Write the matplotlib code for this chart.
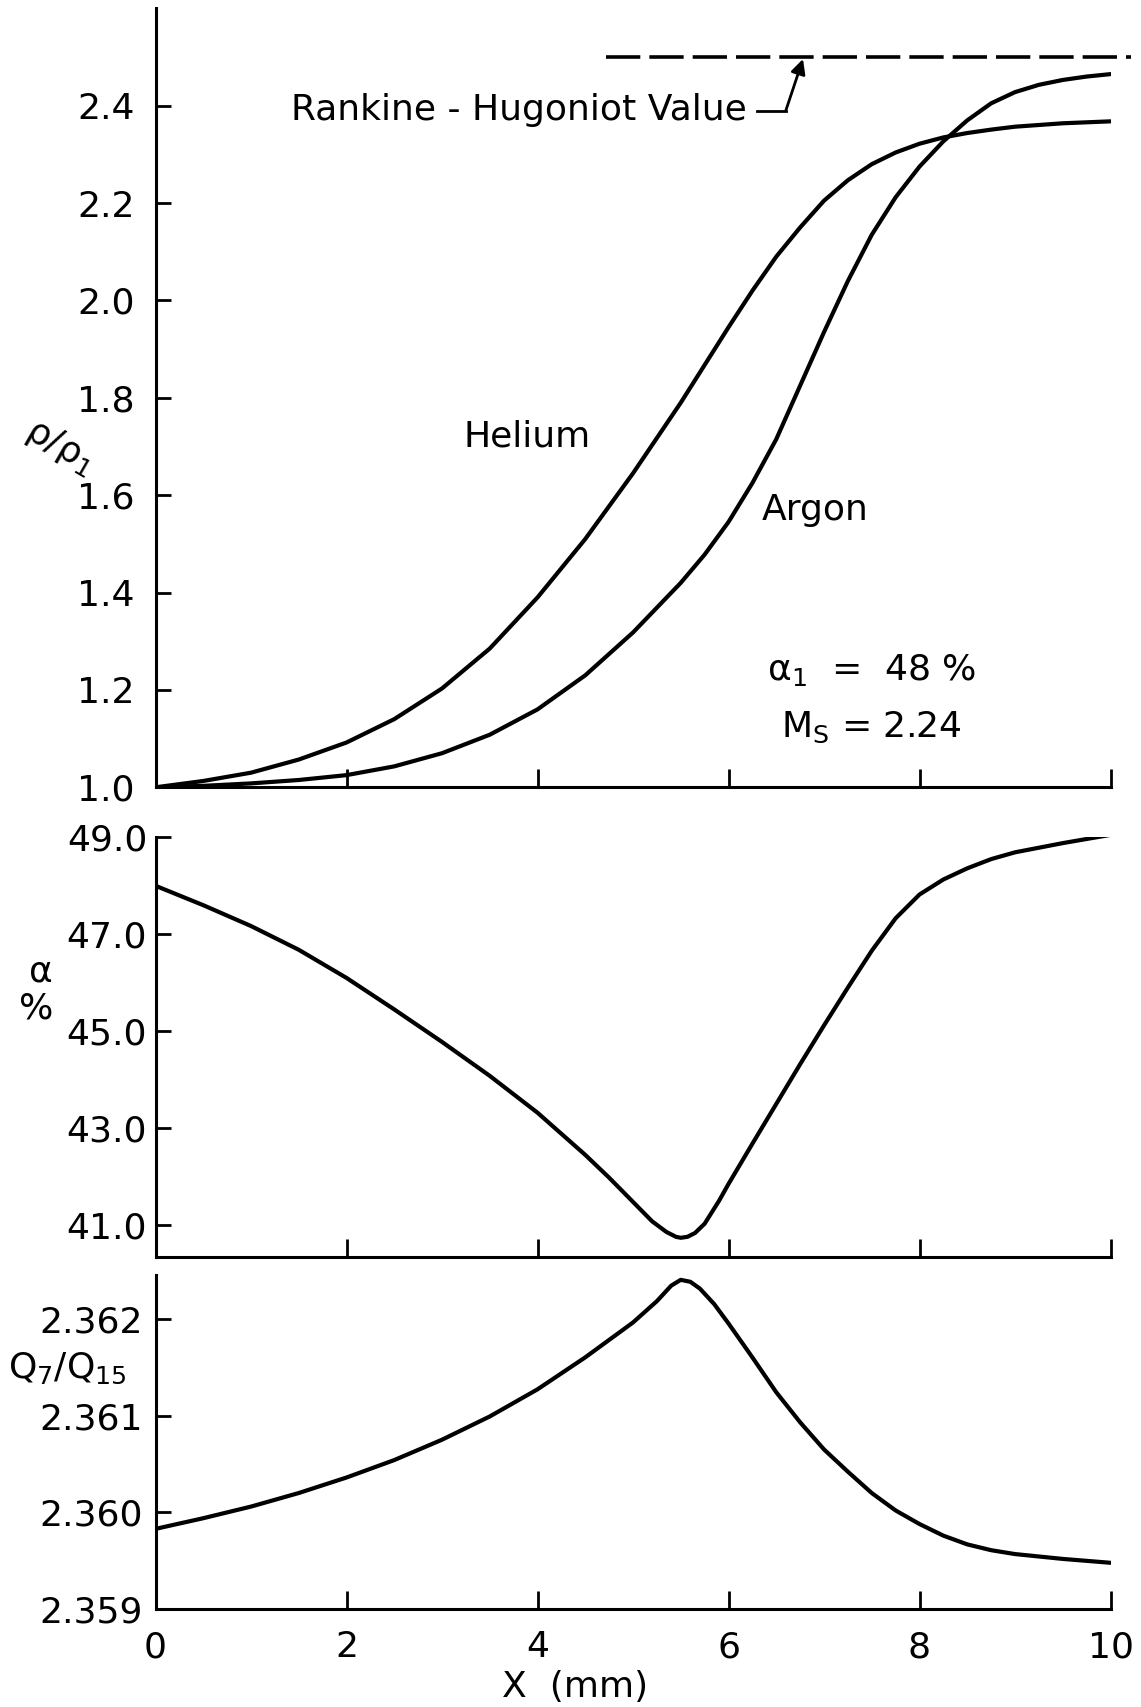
import matplotlib
matplotlib.use("Agg")
import matplotlib.pyplot as plt

# ---- data ---------------------------------------------------------------
x_ticks = [0, 2, 4, 6, 8, 10]

# density ratio rho/rho1 through the shock
helium_x = [0, 0.5, 1, 1.5, 2, 2.5, 3, 3.5, 4, 4.5, 5, 5.5, 6, 6.25, 6.5,
            6.75, 7, 7.25, 7.5, 7.75, 8, 8.25, 8.5, 8.75, 9, 9.5, 10]
helium_y = [1.000, 1.013, 1.030, 1.057, 1.092, 1.140, 1.203, 1.285, 1.390,
            1.510, 1.645, 1.790, 1.945, 2.020, 2.090, 2.150, 2.205, 2.247,
            2.280, 2.304, 2.322, 2.335, 2.344, 2.351, 2.357, 2.364, 2.368]
argon_x = [0, 0.5, 1, 1.5, 2, 2.5, 3, 3.5, 4, 4.5, 5, 5.5, 5.75, 6, 6.25,
           6.5, 6.75, 7, 7.25, 7.5, 7.75, 8, 8.25, 8.5, 8.75, 9, 9.25, 9.5,
           9.75, 10]
argon_y = [1.000, 1.003, 1.008, 1.015, 1.025, 1.043, 1.070, 1.108, 1.160,
           1.230, 1.318, 1.420, 1.478, 1.545, 1.625, 1.715, 1.825, 1.935,
           2.040, 2.135, 2.212, 2.275, 2.327, 2.370, 2.405, 2.428, 2.443,
           2.453, 2.460, 2.465]
rankine_hugoniot = 2.50
rho_ticks = [1.0, 1.2, 1.4, 1.6, 1.8, 2.0, 2.2, 2.4]
rho_ticklabels = ["1.0", "1.2", "1.4", "1.6", "1.8", "2.0", "2.2", "2.4"]

# degree of dissociation alpha (%)
alpha_x = [0, 0.5, 1.0, 1.5, 2.0, 2.5, 3.0, 3.5, 4.0, 4.5, 4.75, 5.0, 5.2,
           5.35, 5.45, 5.5, 5.57, 5.65, 5.75, 5.9, 6.0, 6.25, 6.5, 6.75, 7.0,
           7.25, 7.5, 7.75, 8.0, 8.25, 8.5, 8.75, 9.0, 9.5, 10.0]
alpha_y = [48.00, 47.60, 47.17, 46.68, 46.10, 45.45, 44.78, 44.08, 43.32,
           42.45, 41.98, 41.48, 41.08, 40.86, 40.76, 40.74, 40.76, 40.84,
           41.03, 41.50, 41.85, 42.68, 43.50, 44.32, 45.12, 45.90, 46.66,
           47.33, 47.82, 48.13, 48.36, 48.55, 48.69, 48.88, 49.05]
alpha_ticks = [41.0, 43.0, 45.0, 47.0, 49.0]
alpha_ticklabels = ["41.0", "43.0", "45.0", "47.0", "49.0"]

# partition function ratio Q7/Q15
q_x = [0, 0.5, 1, 1.5, 2, 2.5, 3, 3.5, 4, 4.5, 5, 5.25, 5.4, 5.5, 5.6, 5.7,
       5.85, 6.0, 6.25, 6.5, 6.75, 7.0, 7.25, 7.5, 7.75, 8.0, 8.25, 8.5,
       8.75, 9.0, 9.5, 10.0]
q_y = [2.35983, 2.35994, 2.36006, 2.36020, 2.36036, 2.36054, 2.36075,
       2.36099, 2.36127, 2.36160, 2.36196, 2.36218, 2.36234, 2.36240,
       2.36238, 2.36231, 2.36215, 2.36195, 2.36160, 2.36124, 2.36093,
       2.36065, 2.36042, 2.36020, 2.36002, 2.35988, 2.35976, 2.35967,
       2.35961, 2.35957, 2.35952, 2.35948]
q_ticks = [2.359, 2.360, 2.361, 2.362]
q_ticklabels = ["2.359", "2.360", "2.361", "2.362"]

# ---- style --------------------------------------------------------------
plt.rcParams["font.family"] = ["DejaVu Sans"]
plt.rcParams["mathtext.fontset"] = "dejavusans"
FS = 26
LW = 3.0
SPINE_LW = 2.2

W, H = 1141, 1707
fig = plt.figure(figsize=(W / 100, H / 100), dpi=100)
fig.patch.set_facecolor("white")


def px_axes(top, bottom, left=155.5, right=1110.5):
    return fig.add_axes([left / W, 1 - bottom / H, (right - left) / W,
                         (bottom - top) / H])


def style(ax, ypad, xlabels=False):
    for s in ("top", "right"):
        ax.spines[s].set_visible(False)
    for s in ("left", "bottom"):
        ax.spines[s].set_linewidth(SPINE_LW)
    ax.set_xlim(0, 10)
    ax.set_xticks(x_ticks)
    ax.tick_params(axis="x", direction="in", length=13, width=2.0,
                   labelsize=FS, pad=15, labelbottom=xlabels)
    ax.tick_params(axis="y", direction="in", length=11, width=2.0,
                   labelsize=FS, pad=ypad)


def curve(ax, xs, ys):
    ax.plot(xs, ys, color="black", lw=LW, solid_capstyle="round",
            solid_joinstyle="round")


# ---- top panel: density ratio -------------------------------------------
ax1 = px_axes(8.4, 787.3)
style(ax1, ypad=15)
ax1.set_ylim(1.0, 2.6)
ax1.set_yticks(rho_ticks)
ax1.set_yticklabels(rho_ticklabels)
curve(ax1, helium_x, helium_y)
curve(ax1, argon_x, argon_y)
ax1.plot([4.72, 10.21], [rankine_hugoniot, rankine_hugoniot], color="black",
         lw=2.6, linestyle=(0, (9.5, 2.5)), clip_on=False)

ax1.text(6.19, 2.392, "Rankine - Hugoniot Value", fontsize=FS, ha="right",
         va="center")
ax1.plot([6.30, 6.60], [2.390, 2.390], color="black", lw=2.0)
ax1.annotate("", xy=(6.78, rankine_hugoniot - 0.004), xytext=(6.60, 2.390),
             arrowprops=dict(arrowstyle="-|>", color="black", lw=2.0,
                             mutation_scale=22, shrinkA=0, shrinkB=0))

ax1.text(3.89, 1.721, "Helium", fontsize=FS, ha="center", va="center")
ax1.text(6.91, 1.569, "Argon", fontsize=FS, ha="center", va="center")
ax1.text(6.40, 1.2415, "α$_{\\mathregular{1}}$  =  48 %", fontsize=FS,
         ha="left", va="center")
ax1.text(6.55, 1.123, "M$_{\\mathregular{S}}$ = 2.24", fontsize=FS,
         ha="left", va="center")

fig.text(60 / W, 1 - 447 / H, "ρ/ρ$_{\\mathregular{1}}$", fontsize=FS,
         ha="center", va="center", rotation=-30)

# ---- middle panel: degree of dissociation --------------------------------
ax2 = px_axes(837.3, 1256.7)
style(ax2, ypad=6)
ax2.set_ylim(40.35, 49.0)
ax2.set_yticks(alpha_ticks)
ax2.set_yticklabels(alpha_ticklabels)
curve(ax2, alpha_x, alpha_y)
fig.text(41 / W, 1 - 972 / H, "α", fontsize=FS, ha="center", va="center")
fig.text(36 / W, 1 - 1009 / H, "%", fontsize=FS, ha="center", va="center")

# ---- bottom panel: partition function ratio ------------------------------
ax3 = px_axes(1275, 1609.3)
style(ax3, ypad=9, xlabels=True)
ax3.set_ylim(2.359, 2.36245)
ax3.set_yticks(q_ticks)
ax3.set_yticklabels(q_ticklabels)
ax3.set_xticklabels([str(v) for v in x_ticks])
curve(ax3, q_x, q_y)
fig.text(67 / W, 1 - 1368 / H, "Q$_{\\mathregular{7}}$/Q$_{\\mathregular{15}}$",
         fontsize=FS, ha="center", va="center")

fig.text(575 / W, 1 - 1687 / H, "X  (mm)", fontsize=FS, ha="center",
         va="center")

fig.savefig("out.png", dpi=100, facecolor="white")
